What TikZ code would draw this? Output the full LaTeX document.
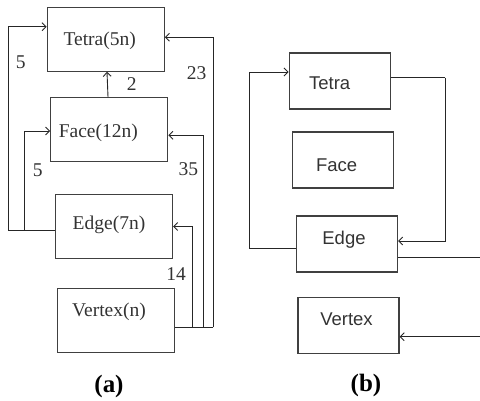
\documentclass[tikz,border=0pt]{standalone}
\usepackage{fontspec}
\setmainfont{Liberation Serif}
\newfontfamily\arialfont{Liberation Sans}
\usetikzlibrary{arrows.meta}

\begin{document}
\begin{tikzpicture}[
    x=1pt, y=-1pt, >={Straight Barb[length=4pt, width=8pt]},
    boxA/.style={draw=black!75, line width=1.2pt, minimum width=117pt, minimum height=64pt, inner sep=0pt},
    boxB/.style={draw=black!75, line width=1.2pt, minimum width=101pt, minimum height=56pt, inner sep=0pt},
    txtA/.style={text=black!80, font=\fontsize{19.5}{22}\selectfont},
    txtB/.style={text=black!80, font=\arialfont\fontsize{18.5}{21}\selectfont},
    conn/.style={draw=black!85, line width=0.9pt},
    num/.style={text=black!80, font=\fontsize{19.5}{22}\selectfont},
    capt/.style={font=\bfseries\fontsize{25}{28}\selectfont}
]
    \useasboundingbox (0,0) rectangle (480,401);

    % (a)
    \node[boxA, label={[txtA, xshift=-6pt, yshift=-2pt]center:Tetra(5n)}]  (tetA)  at (105.7,39.2)  {};
    \node[boxA, label={[txtA, xshift=-11pt, yshift=-3pt]center:Face(12n)}] (faceA) at (109.3,129.7) {};
    \node[boxA, label={[txtA, xshift=-5pt, yshift=2pt]center:Edge(7n)}]    (edgeA) at (114,226.5)   {};
    \node[boxA, label={[txtA, xshift=-7pt, yshift=9pt]center:Vertex(n)}]   (vertA) at (116,320.5)   {};

    \coordinate (loA) at (8,230.7);
    \coordinate (liA) at (24,230.7);
    \coordinate (r1A) at (192.3,327.3);
    \coordinate (r2A) at (203.3,327.3);
    \coordinate (r3A) at (213.3,327.3);

    \path[conn, ->] (faceA) -- (tetA);
    \path[conn] (edgeA.west |- loA) -- (loA);
    \path[conn, ->] (loA) |- ([yshift=12.5pt]tetA.west);
    \path[conn, ->] (liA) |- ([yshift=-1.3pt]faceA.west);
    \path[conn] (vertA.east |- r3A) -- (r3A);
    \path[conn, ->] (r1A) |- (edgeA.east);
    \path[conn, ->] (r2A) |- ([yshift=-5.6pt]faceA.east);
    \path[conn, ->] (r3A) |- ([yshift=1.9pt]tetA.east);

    \node[num] (n2)  at (131.7,84.3) {2};
    \node[num] (n5a) at (20.7,62.7)  {5};
    \node[num] (n5b) at (37.7,170)   {5};
    \node[num] (n14) at (176,274)    {14};
    \node[num] (n35) at (188.3,169)  {35};
    \node[num] (n23) at (196.7,72.7) {23};

    \node[capt] (capA) at (109,386) {(a)};

    % (b)
    \node[boxB, label={[txtB, xshift=-10pt, yshift=-2pt]center:Tetra}]  (tetB)  at (339.7,81)    {};
    \node[boxB, label={[txtB, xshift=-6pt, yshift=-5pt]center:Face}]    (faceB) at (342.7,160)   {};
    \node[boxB, label={[txtB, xshift=-3pt, yshift=4pt]center:Edge}]     (edgeB) at (347,244)     {};
    \node[boxB, label={[txtB, xshift=-2pt, yshift=6pt]center:Vertex}]   (vertB) at (348.5,325.3) {};

    \coordinate (lB)  at (249.3,248);
    \coordinate (rB)  at (445,77.7);
    \coordinate (e1B) at (480,257.3);
    \coordinate (e2B) at (480,336.7);

    \path[conn] (edgeB.west |- lB) -- (lB);
    \path[conn, ->] (lB) |- ([yshift=9pt]tetB.west);
    \path[conn] (tetB.east |- rB) -- (rB);
    \path[conn, ->] (rB) |- ([yshift=3pt]edgeB.east);
    \path[conn] (edgeB.east |- e1B) -- (e1B);
    \path[conn, ->] (e2B) -- (vertB.east |- e2B);

    \node[capt] (capB) at (366,385) {(b)};
\end{tikzpicture}
\end{document}
